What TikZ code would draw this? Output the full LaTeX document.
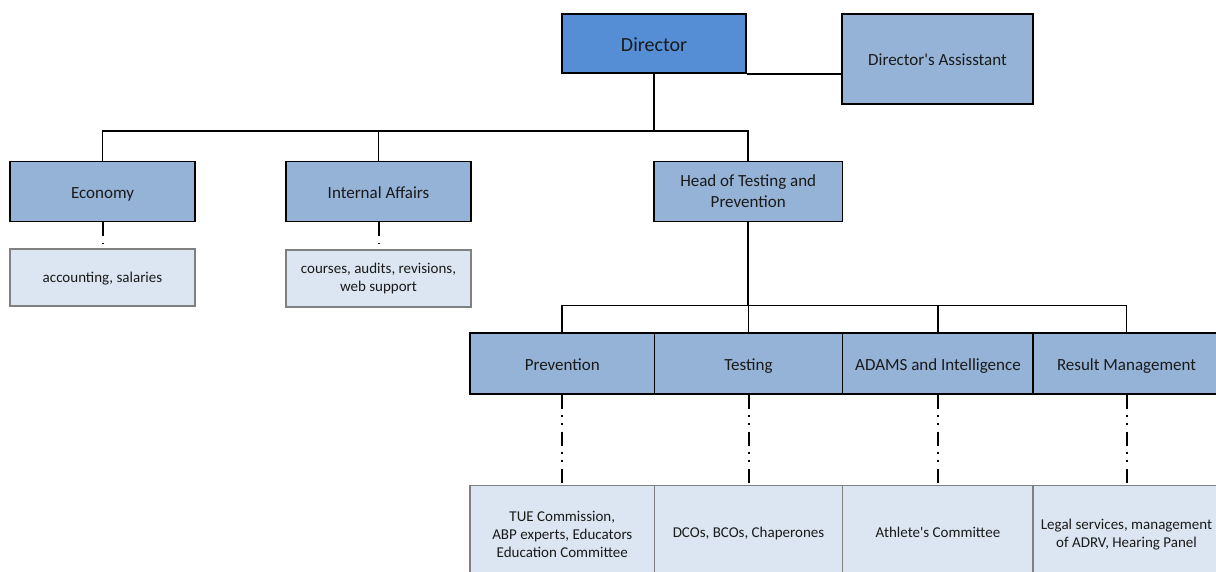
\documentclass[tikz,border=0pt]{standalone}
\usepackage{fontspec}
\setmainfont{Carlito}
\usepackage{xcolor}
\usepackage{tikz}
\usetikzlibrary{calc}
\definecolor{DirBlue}{HTML}{558ED5}
\definecolor{UnitBlue}{HTML}{95B3D7}
\definecolor{TaskBlue}{HTML}{DCE6F2}
\definecolor{TaskGray}{HTML}{808080}
\definecolor{InkGray}{HTML}{1A1A1A}

\begin{document}
\begin{tikzpicture}[x=1pt, y=-1pt,
    unit/.style={draw=black, line width=1.6pt, fill=UnitBlue, text=InkGray,
      inner sep=0pt, align=center, font=\fontsize{17}{21}\selectfont},
    oneline/.style={text height=15pt, text depth=1.5pt},
    task/.style={draw=TaskGray, line width=1.2pt, fill=TaskBlue, text=InkGray,
      inner sep=0pt, align=center, font=\fontsize{15}{18.3}\selectfont},
    taskline/.style={text height=11.5pt, text depth=2pt},
    link/.style={line width=1.8pt},
    dotlink/.style={line width=2pt,
      dash pattern=on 14pt off 6.5pt on 1.5pt off 6.5pt on 1.5pt off 7pt}]
  \useasboundingbox (0,0) rectangle (1216,572);
  \clip (0,0) rectangle (1216,572);

  % top level
  \node[unit, fill=DirBlue, minimum width=184pt, minimum height=59pt,
    font=\fontsize{20}{24}\selectfont, text height=19pt, text depth=2pt] (dir) at (654,43.5) {Director};
  \node[unit, oneline, minimum width=191pt, minimum height=90pt] (asst) at (937.5,59)
    {Director\textquotesingle s Assisstant};

  % departments
  \def\rowy{191.5}
  \node[unit, oneline, minimum width=185pt, minimum height=60pt] (econ) at (102.5,\rowy) {Economy};
  \node[unit, oneline, minimum width=185pt, minimum height=60pt] (intaff) at (378.5,\rowy) {Internal Affairs};
  \node[unit, minimum width=188.5pt, minimum height=60pt] (head) at (748.2,\rowy)
    {Head of Testing and\\Prevention};

  \node[task, taskline, minimum width=185pt, minimum height=57pt]
    (econsub) at (102.5,277.5) {accounting, salaries};
  \node[task, minimum width=185pt, minimum height=57pt] (intaffsub) at (378.5,278.5)
    {courses, audits, revisions,\\web support};

  % testing and prevention units
  \def\secy{363.5}
  \node[unit, oneline, minimum width=184.5pt, minimum height=60.5pt] (prev) at (562.3,\secy) {Prevention};
  \node[unit, oneline, minimum width=188pt, minimum height=60.5pt] (test) at (748.5,\secy) {Testing};
  \node[unit, oneline, minimum width=191pt, minimum height=60.5pt] (adams) at (938,\secy) {ADAMS and Intelligence};
  \node[unit, oneline, minimum width=187pt, minimum height=60.5pt] (resman) at (1126.5,\secy) {Result Management};

  \def\suby{534.5}
  \node[task, minimum width=184.5pt, minimum height=98pt] (prevsub) at (562.3,\suby)
    {TUE Commission,\\ABP experts, Educators\\Education Committee};
  \node[task, minimum width=188pt, minimum height=98pt, text height=10pt, text depth=3.5pt]
    (testsub) at (748.5,\suby) {DCOs, BCOs, Chaperones};
  \node[task, minimum width=191pt, minimum height=98pt, text height=10pt, text depth=3.5pt]
    (adamssub) at (938,\suby) {Athlete\textquotesingle s Committee};
  \node[task, minimum width=187pt, minimum height=98pt] (resmansub) at (1126.5,\suby)
    {Legal services, management\\of ADRV, Hearing Panel};

  % connectors
  \draw[link] (dir.south east) -- (dir.south east -| asst.west);
  \coordinate (bus1) at (dir.south |- 0,131);
  \draw[link] (dir.south) -- (bus1);
  \foreach \n in {econ, intaff, head}
    \draw[link] (bus1) -| (\n.north);

  \coordinate (bus2) at (head.south |- 0,305.5);
  \draw[link] (head.south) -- (bus2);
  \foreach \n in {prev, test, adams, resman}
    \draw[link] (bus2) -| (\n.north);

  \foreach \n in {econ, intaff, prev, test, adams, resman}
    \draw[dotlink] (\n.south) -- (\n sub.north);
\end{tikzpicture}
\end{document}
